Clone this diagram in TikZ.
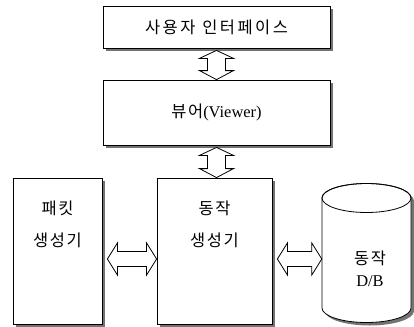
\documentclass[tikz,border=0pt]{standalone}
\usepackage{fontspec}
\setmainfont{Liberation Serif}
\newfontfamily\kr{Noto Sans CJK KR}[LetterSpace=10]
\newfontfamily\krwide{Noto Sans CJK KR}[LetterSpace=15]
\usetikzlibrary{calc}
\tikzset{
  box/.style={draw=black, line width=0.8bp, fill=white, inner sep=0pt},
  hollow/.style={draw=black, line width=0.8bp, fill=white, line join=miter},
  txt/.style={inner sep=0pt, font=\fontsize{16.5}{19}\selectfont},
}
\begin{document}
\begin{tikzpicture}[x=1bp, y=-1bp]
\useasboundingbox (0,0) rectangle (414,327);
% shadows
\fill[black!55] (106,9) rectangle (333,51);
\fill[black!55] (106,83) rectangle (333,148);
\fill[black!55] (16,181) rectangle (105,327);
\fill[black!55] (160,181) rectangle (275,327);
% boxes
\node[box, minimum width=227bp, minimum height=42bp] (ui) at (216.5,27) {};
\node[box, minimum width=227bp, minimum height=65bp] (viewer) at (216.5,112.5) {};
\node[box, minimum width=89bp, minimum height=146bp] (pkt) at (57.5,251) {};
\node[box, minimum width=115bp, minimum height=146bp] (mgen) at (214.5,251) {};
% cylinder
\node[inner sep=0pt, minimum width=89bp, minimum height=139bp] (db) at (366.5,252.5) {};
\fill[black!55] (325,201) -- (325,311) arc[start angle=180, end angle=0, x radius=44.5, y radius=14.5] -- (414,201) arc[start angle=0, end angle=-180, x radius=44.5, y radius=14.5] -- cycle;
\filldraw[fill=white, draw=black, line width=0.8bp] (322,198) -- (322,308) arc[start angle=180, end angle=0, x radius=44.5, y radius=14.5] -- (411,198) arc[start angle=0, end angle=-180, x radius=44.5, y radius=14.5] -- cycle;
\draw[line width=0.8bp] (366.5,198) ellipse[x radius=44.5, y radius=14.5];
% texts
\node[txt] (uit) at (ui.center) {\krwide 사용자\hspace{7bp}인터페이스};
\node[txt] (vt) at (viewer.center) {{\kr 뷰어}(Viewer)};
\node[txt] (pt1) at (57.5,208) {\kr 패킷};
\node[txt] (pt2) at (57.5,240) {\kr 생성기};
\node[txt] (mt1) at (214.5,208) {\kr 동작};
\node[txt] (mt2) at (214.5,240) {\kr 생성기};
\node[txt] (dt1) at (370,258) {\kr 동작};
\node[txt] (dt2) at (370,281) {D/B};
% vertical double arrows
\foreach \a/\b in {ui/viewer, viewer/mgen}{
  \draw[hollow] let \p1=(\a.south), \p2=(\b.north) in
    (\x1,\y1-2bp) -- (\x1+17bp,\y1-10bp) -- (\x1+9bp,\y1-10bp) -- (\x1+9bp,\y2+9bp)
    -- (\x1+17bp,\y2+9bp) -- (\x1,\y2) -- (\x1-17bp,\y2+9bp) -- (\x1-9bp,\y2+9bp)
    -- (\x1-9bp,\y1-10bp) -- (\x1-17bp,\y1-10bp) -- cycle;
}
% horizontal double arrows
\foreach \a/\b in {pkt/mgen, mgen/db}{
  \draw[hollow] let \p1=(\a.east), \p2=(\b.west) in
    (\x1+5bp,\y1-8bp) -- (\x1+15bp,\y1+8bp) -- (\x1+15bp,\y1-0.5bp) -- (\x2-10bp,\y1-0.5bp)
    -- (\x2-10bp,\y1+8bp) -- (\x2,\y1-8bp) -- (\x2-10bp,\y1-24bp) -- (\x2-10bp,\y1-15.5bp)
    -- (\x1+15bp,\y1-15.5bp) -- (\x1+15bp,\y1-24bp) -- cycle;
}
\end{tikzpicture}
\end{document}
